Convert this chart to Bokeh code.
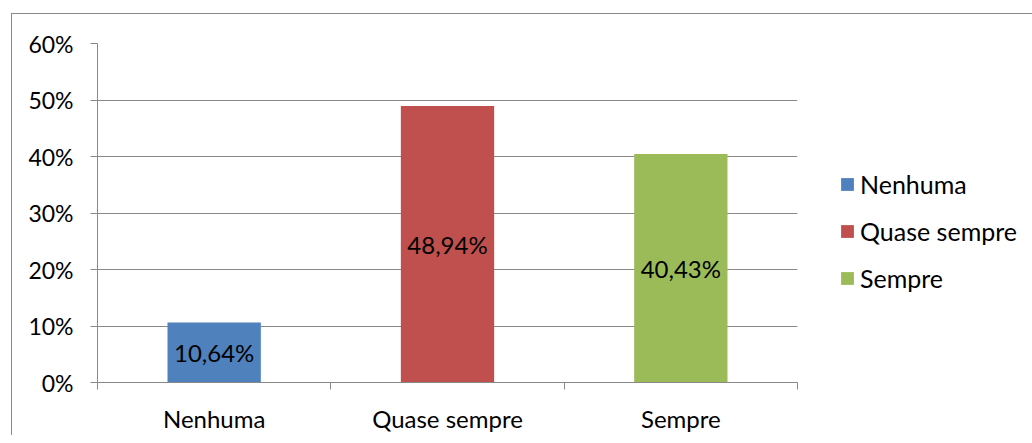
from bokeh.plotting import figure
from bokeh.models import (Range1d, FixedTicker, NumeralTickFormatter, Legend, LegendItem,
                          ColumnDataSource)
from bokeh.core.properties import value
from bokeh.embed import file_html
from bokeh.resources import INLINE

categories = ["Nenhuma", "Quase sempre", "Sempre"]
percent_values = [10.64, 48.94, 40.43]
bar_labels = ["10,64%", "48,94%", "40,43%"]
bar_colors = ["#4F81BD", "#C0504D", "#9BBB59"]
y_ticks = [0.0, 0.1, 0.2, 0.3, 0.4, 0.5, 0.6]

FONT = "Lato"
GRAY = "#898989"

xs = [i + 0.5 for i in range(len(categories))]
fracs = [v / 100 for v in percent_values]
src = ColumnDataSource(dict(x=xs, top=fracs, mid=[f / 2 for f in fracs],
                            color=bar_colors, label=bar_labels, cat=categories))

p = figure(frame_width=700, frame_height=339, output_backend="svg", toolbar_location=None,
           x_range=Range1d(0, 3), y_range=Range1d(0, 0.6),
           min_border_left=85, min_border_right=227, min_border_top=29, min_border_bottom=53)
p.outline_line_color = None
p.background_fill_color = "white"
p.border_fill_color = "white"
p.styles = {"margin-left": "11px", "margin-top": "13px",
            "border-left": "1px solid #898989", "border-top": "1px solid #898989"}

bars = p.vbar(x="x", top="top", width=0.4, bottom=0, color="color", source=src, line_color=None)
p.text(x="x", y="mid", text="label", source=src, text_align="center", text_baseline="middle",
       text_font=value(FONT), text_font_size="24px", text_color="black")

# y axis
p.yaxis.ticker = FixedTicker(ticks=y_ticks)
p.yaxis.formatter = NumeralTickFormatter(format="0%")
p.yaxis.axis_line_color = GRAY
p.yaxis.major_tick_line_color = GRAY
p.yaxis.major_tick_out = 7
p.yaxis.major_tick_in = 0
p.yaxis.minor_tick_line_color = None
p.yaxis.major_label_standoff = 17
p.yaxis.major_label_text_font = FONT
p.yaxis.major_label_text_font_size = "23px"
p.yaxis.major_label_text_color = "black"

# x axis: labels at centers, ticks at boundaries
p.xaxis.ticker = FixedTicker(ticks=xs, minor_ticks=[0, 1, 2, 3])
p.xaxis.major_label_overrides = {x: c for x, c in zip(xs, categories)}
p.xaxis.axis_line_color = GRAY
p.xaxis.major_tick_line_color = None
p.xaxis.minor_tick_line_color = GRAY
p.xaxis.minor_tick_out = 7
p.xaxis.minor_tick_in = 0
p.xaxis.major_tick_out = 7
p.xaxis.major_label_standoff = 14
p.xaxis.major_label_text_font = FONT
p.xaxis.major_label_text_font_size = "24px"
p.xaxis.major_label_text_color = "black"

p.xgrid.grid_line_color = None
p.ygrid.ticker = FixedTicker(ticks=y_ticks)
p.ygrid.grid_line_color = GRAY
p.ygrid.grid_line_width = 1

items = [LegendItem(label=c, renderers=[bars], index=i) for i, c in enumerate(categories)]
legend = Legend(items=items, location=(42, 89), orientation="vertical",
                glyph_width=16, glyph_height=16, label_standoff=5, spacing=17,
                padding=0, margin=0, border_line_color=None, background_fill_alpha=0,
                label_text_font=FONT, label_text_font_size="25px", label_text_color="black")
p.add_layout(legend, "right")

open("out.html", "w").write(file_html(p, INLINE))
